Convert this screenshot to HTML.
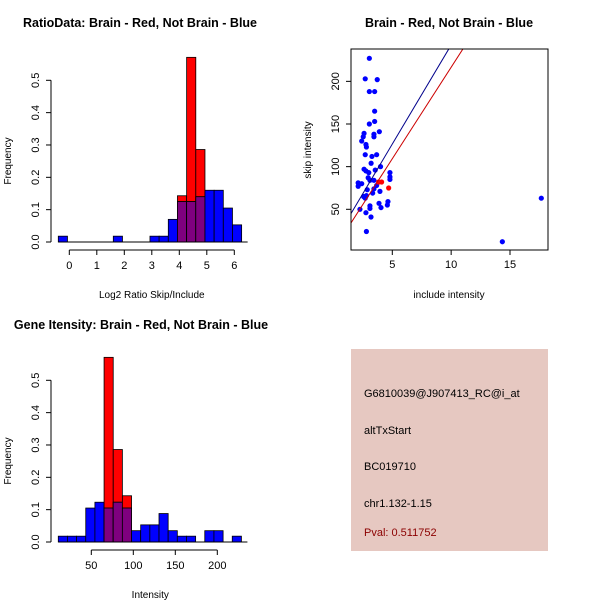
<!DOCTYPE html>
<html><head><meta charset="utf-8"><style>
body{margin:0;background:#fff}
svg{display:block;font-family:"Liberation Sans",Arial,sans-serif}
</style></head><body>
<svg id="c" width="600" height="600" xmlns="http://www.w3.org/2000/svg">
<rect x="0" y="0" width="600" height="600" fill="#fff"/>
<g id="p1"></g>
<g id="p2"></g>
<g id="p3"></g>
<g>
<rect x="351" y="349" width="197" height="202" fill="#e6c8c1"/>
<text x="364" y="397" font-size="11" fill="#000">G6810039@J907413_RC@i_at</text>
<text x="364" y="434" font-size="11" fill="#000">altTxStart</text>
<text x="364" y="470" font-size="11" fill="#000">BC019710</text>
<text x="364" y="507" font-size="11" fill="#000">chr1.132-1.15</text>
<text x="364" y="536" font-size="11" fill="#8b0000">Pval: 0.511752</text>
</g>
</svg>
<script>
// Ratio histogram data
const ratioStart = -0.4;
const ratioBinWidth = 1/3;
const ratioBlue = [0.018,0,0,0,0,0,0.018,0,0,0,0.018,0.018,0.07,0.125,0.125,0.14,0.16,0.16,0.105,0.053];
const ratioRed  = [0,0,0,0,0,0,0,0,0,0,0,0,0,0.143,0.571,0.286,0,0,0,0];
const ratioXTicks = [0,1,2,3,4,5,6];
const freqTicks = ["0.0","0.1","0.2","0.3","0.4","0.5"];
// Gene intensity histogram data
const intStart = 10.7;
const intBinWidth = 10.9;
const intBlue = [0.018,0.018,0.018,0.105,0.123,0.105,0.123,0.105,0.035,0.053,0.053,0.088,0.035,0.018,0.018,0,0.035,0.035,0,0.018];
const intRed  = [0,0,0,0,0,0.571,0.286,0.143,0,0,0,0,0,0,0,0,0,0,0,0];
const intXTicks = [50,100,150,200];
// Scatter data
const blueX = [3.05,2.7,3.72,3.05,3.5,3.5,3.5,3.05,3.9,2.6,3.44,2.53,3.44,2.4,2.76,2.8,2.7,3.67,3.27,3.2,4.0,2.6,2.76,3.55,4.8,3.0,2.95,4.8,4.8,3.1,3.44,2.1,2.4,2.1,3.67,3.44,2.87,3.95,3.33,2.8,2.56,2.7,4.63,3.87,4.58,3.1,4.04,3.1,2.25,2.76,3.19,2.8,14.35,17.66];
const blueY = [227,203,202,188,188,165,153,150,141,139,138,135,135,130,126,123,114,114,112,104,100,97,95,96,93,93,87,88,85,84,84,81,80,77,78,74,73,71,69,66,65,63,59,57,55,54,52,51,50,46,41,24,12,63];
const redX = [4.69,3.84,4.09];
const redY = [75,82,82];
const blueLine = [1.49,45,9.8,238];
const redLine = [1.49,34,11.0,238];
const scatterXTicks = [5,10,15];
const scatterYTicks = [50,100,150,200];

const NS="http://www.w3.org/2000/svg";
function mk(parent,tag,attrs){const e=document.createElementNS(NS,tag);for(const k in attrs)e.setAttribute(k,attrs[k]);parent.appendChild(e);return e;}
function txt(parent,x,y,s,opts){const e=mk(parent,'text',Object.assign({x:x,y:y,'font-size':11,'text-anchor':'middle',fill:'#000'},opts||{}));e.textContent=s;return e;}

function hist(g,cfg){
  const sx=v=>cfg.x0+(v-cfg.v0)*cfg.kx;
  const sy=v=>cfg.y0-v*cfg.ky;
  const t=txt(g,cfg.titleX,cfg.titleY,cfg.title,{'font-weight':'bold','font-size':12.5});
  
  
  for(let i=0;i<cfg.blue.length;i++){
    const a=cfg.start+i*cfg.bw,b=a+cfg.bw;
    const x=sx(a),w=sx(b)-sx(a);
    const bv=cfg.blue[i],rv=cfg.red[i];
    if(rv>0){const r=mk(g,'rect',{x:x,y:sy(rv),width:w,height:sy(0)-sy(rv),fill:'#ff0000',stroke:'#000','stroke-width':0.8});
      
      }
    if(bv>0){const r=mk(g,'rect',{x:x,y:sy(bv),width:w,height:sy(0)-sy(bv),fill:'#0000ff',stroke:'#000','stroke-width':0.8});
      
      }
    const m=Math.min(bv,rv);
    if(m>0){const r=mk(g,'rect',{x:x,y:sy(m),width:w,height:sy(0)-sy(m),fill:'#7f007f',stroke:'#000','stroke-width':0.8});
      
      }
  }
  mk(g,'line',{x1:sx(cfg.start),x2:sx(cfg.start+cfg.blue.length*cfg.bw)+6,y1:sy(0),y2:sy(0),stroke:'#000'});
  const ya=mk(g,'g',{});
  
  
  mk(ya,'line',{x1:cfg.yAxisX,x2:cfg.yAxisX,y1:sy(0),y2:sy(0.5),stroke:'#000'});
  freqTicks.forEach((s,i)=>{const v=i*0.1;mk(ya,'line',{x1:cfg.yAxisX-5,x2:cfg.yAxisX,y1:sy(v),y2:sy(v),stroke:'#000'});
    txt(ya,cfg.yAxisX-16,sy(v)+4,s,{transform:`rotate(-90 ${cfg.yAxisX-16} ${sy(v)})`,x:cfg.yAxisX-16,y:sy(v)+4});});
  const yl=txt(g,0,0,'Frequency',{'font-size':10,transform:`translate(11 ${cfg.y0-81}) rotate(-90)`});
  
  
  const xa=mk(g,'g',{});
  
  
  const axY=cfg.y0+8;
  mk(xa,'line',{x1:sx(cfg.ticks[0]),x2:sx(cfg.ticks[cfg.ticks.length-1]),y1:axY,y2:axY,stroke:'#000'});
  cfg.ticks.forEach(v=>{mk(xa,'line',{x1:sx(v),x2:sx(v),y1:axY,y2:axY+5,stroke:'#000'});txt(xa,sx(v),axY+19,String(v));});
  const xl=txt(g,(cfg.x0+sx(cfg.ticks[cfg.ticks.length-1]))/2+cfg.xlShift,cfg.y0+56,cfg.xlabel,{'font-size':10});
  
  
}

hist(document.getElementById('p1'),{x0:69.3,v0:0,kx:27.5,y0:242,ky:323.4,start:ratioStart,bw:ratioBinWidth,blue:ratioBlue,red:ratioRed,ticks:ratioXTicks,yAxisX:51,title:'RatioData: Brain - Red, Not Brain - Blue',titleX:140,titleY:27,xlabel:'Log2 Ratio Skip/Include',xlShift:0});
hist(document.getElementById('p3'),{x0:91.3,v0:50,kx:0.84,y0:542,ky:323.4,start:intStart,bw:intBinWidth,blue:intBlue,red:intRed,ticks:intXTicks,yAxisX:51,title:'Gene Itensity: Brain - Red, Not Brain - Blue',titleX:141,titleY:329,xlabel:'Intensity',xlShift:-4});

(function(){
  const g=document.getElementById('p2');
  const sx=v=>392.3+(v-5)*11.77;
  const sy=v=>209.3-(v-50)*0.853;
  const t=txt(g,449,27,'Brain - Red, Not Brain - Blue',{'font-weight':'bold','font-size':12.5});
  
  
  const cp=mk(g,'clipPath',{id:'clip2'});mk(cp,'rect',{x:351,y:49,width:197,height:201});
  const pts=mk(g,'g',{'clip-path':'url(#clip2)'});
  for(let i=0;i<blueX.length;i++){const c=mk(pts,'circle',{cx:sx(blueX[i]),cy:sy(blueY[i]),r:2.6,fill:'#0000ff'});
    
    }
  for(let i=0;i<redX.length;i++){const c=mk(pts,'circle',{cx:sx(redX[i]),cy:sy(redY[i]),r:2.6,fill:'#ff0000'});
    
    }
  const bl=mk(pts,'line',{x1:sx(blueLine[0]),y1:sy(blueLine[1]),x2:sx(blueLine[2]),y2:sy(blueLine[3]),stroke:'#00008b','stroke-width':1});
  
  
  const rl=mk(pts,'line',{x1:sx(redLine[0]),y1:sy(redLine[1]),x2:sx(redLine[2]),y2:sy(redLine[3]),stroke:'#cc0000','stroke-width':1});
  
  
  const box=mk(g,'rect',{x:351,y:49,width:197,height:201,fill:'none',stroke:'#000'});
  
  
  scatterXTicks.forEach(v=>{mk(g,'line',{x1:sx(v),x2:sx(v),y1:250,y2:255,stroke:'#000'});txt(g,sx(v),268,String(v));});
  scatterYTicks.forEach(v=>{mk(g,'line',{x1:346,x2:351,y1:sy(v),y2:sy(v),stroke:'#000'});txt(g,335,sy(v)+4,String(v),{transform:`rotate(-90 335 ${sy(v)})`,y:sy(v)+4});});
  const xl=txt(g,449,298,'include intensity',{'font-size':10});
  
  
  const yl=txt(g,0,0,'skip intensity',{'font-size':10,transform:'translate(311 150) rotate(-90)'});
  
  
})();
</script>
</body></html>
